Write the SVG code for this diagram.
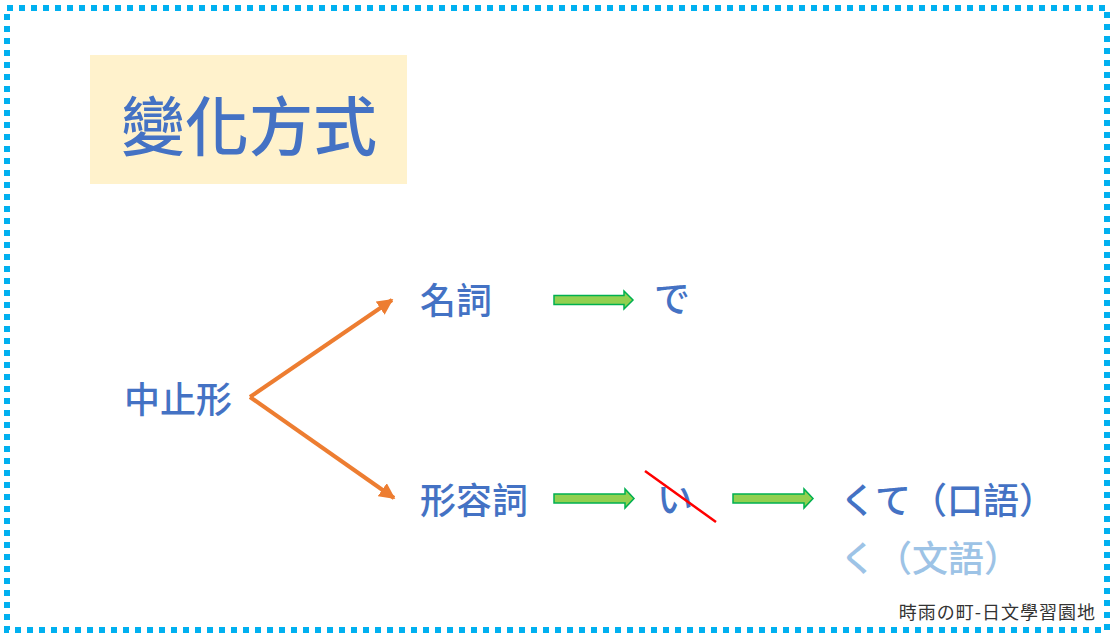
<svg xmlns="http://www.w3.org/2000/svg" width="1116" height="640" viewBox="0 0 1116 640">
<style>
.t{font-family:"Noto Sans CJK TC","Noto Sans CJK JP",sans-serif;fill:#4472C4;font-weight:500}
.lt{fill:#9DC3E6}
.g{fill:#92D050;stroke:#00B050;stroke-width:1.5}
.o{stroke:#ED7D31;stroke-width:4;fill:none}
</style>
<defs>
<marker id="oh" viewBox="0 0 10 10" refX="9" refY="5" markerWidth="4" markerHeight="4" orient="auto" markerUnits="strokeWidth">
<path d="M0,0 L10,5 L0,10 Z" fill="#ED7D31"/>
</marker>
</defs>
<rect width="1116" height="640" fill="#fff"/>
<rect x="7" y="8" width="1100" height="622" fill="none" stroke="#00B0F0" stroke-width="6" stroke-dasharray="6 6"/>
<g id="title">
<rect x="90" y="55" width="317" height="129" fill="#FFF2CC"/>
<text class="t" x="121" y="150" font-size="64">變化方式</text>
</g>
<g id="n-chushi"><text class="t" x="124" y="413" font-size="36">中止形</text></g>
<g id="n-meishi"><text class="t" x="420" y="314" font-size="36">名詞</text></g>
<g id="n-de"><text class="t" x="654" y="312" font-size="36">で</text></g>
<g id="n-keiyoushi"><text class="t" x="420" y="514" font-size="36">形容詞</text></g>
<g id="n-i">
<text class="t" x="657" y="513" font-size="36">い</text>
<line x1="645" y1="471" x2="716" y2="522" stroke="#FF0000" stroke-width="2.5"/>
</g>
<g id="n-kute"><text class="t" x="840" y="514" font-size="36">くて（口語）</text></g>
<g id="n-ku"><text class="t lt" x="840" y="572" font-size="36">く（文語）</text></g>
<g id="connectors">
<line class="o" x1="250" y1="397" x2="392" y2="300" marker-end="url(#oh)"/>
<line class="o" x1="250" y1="397" x2="394" y2="498" marker-end="url(#oh)"/>
<path class="g" d="M554,295.5 H624 V291 L633,300 L624,309 V304.5 H554 Z"/>
<path class="g" d="M554,494 H625 V489 L634,498.5 L625,508 V503 H554 Z"/>
<path class="g" d="M733,494 H804 V489 L813,498.5 L804,508 V503 H733 Z"/>
</g>
<text x="1096" y="619" font-size="18" text-anchor="end" font-family="Noto Sans CJK TC,sans-serif" fill="#333" letter-spacing="1">時雨の町-日文學習園地</text>
</svg>
